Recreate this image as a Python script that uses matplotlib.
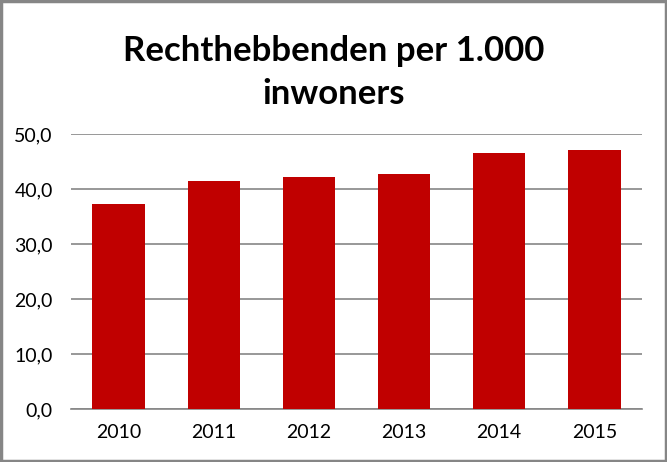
import matplotlib
matplotlib.use("Agg")
import matplotlib.pyplot as plt
from matplotlib.patches import Rectangle
from matplotlib.ticker import FuncFormatter, MultipleLocator

years = ["2010", "2011", "2012", "2013", "2014", "2015"]
values = [37.3, 41.5, 42.2, 42.8, 46.5, 47.1]
title = "Rechthebbenden per 1.000\ninwoners"

plt.rcParams['font.family'] = ['Lato', 'DejaVu Sans']

fig = plt.figure(figsize=(6.67, 4.62), dpi=100)
ax = fig.add_axes([0.1064, 0.1147, 0.856, 0.5953])

x = range(len(years))
ax.bar(x, values, width=0.55, color="#C00000", zorder=3)
ax.set_xlim(-0.5, len(years) - 0.5)
ax.set_ylim(0, 50)
ax.yaxis.set_major_locator(MultipleLocator(10))
ax.yaxis.set_major_formatter(FuncFormatter(lambda v, p: f"{v:.1f}".replace(".", ",")))
ax.set_xticks(list(x))
ax.set_xticklabels(years)
ax.grid(axis="y", color="#868686", linewidth=1.2, zorder=0)
for s in ["top", "right", "left"]:
    ax.spines[s].set_visible(False)
ax.spines["bottom"].set_color("#868686")
ax.spines["bottom"].set_linewidth(1.2)
ax.tick_params(axis="both", length=0, labelsize=14, colors="black")
ax.tick_params(axis="y", pad=13)
ax.tick_params(axis="x", pad=11)

fig.text(0.5, 0.843, title, ha="center", va="center", fontsize=25, fontweight="bold", linespacing=1.45)

fig.patches.append(Rectangle((0.002, 0.003), 0.996, 0.994, transform=fig.transFigure,
                             fill=False, edgecolor="#868686", linewidth=2.5))

fig.savefig("out.png", dpi=100)
